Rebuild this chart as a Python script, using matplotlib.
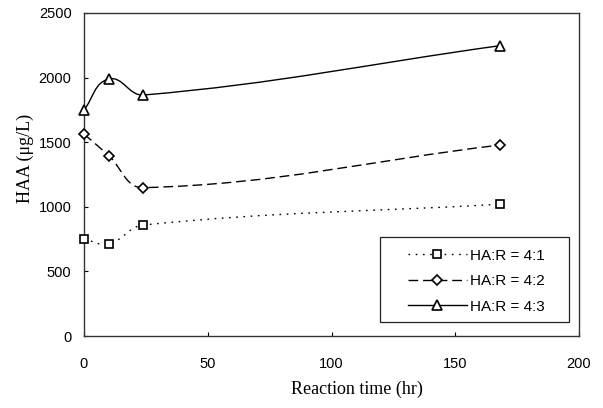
import numpy as np
import matplotlib
matplotlib.use("Agg")
import matplotlib.pyplot as plt
from matplotlib.path import Path
from matplotlib.patches import PathPatch, Rectangle
from matplotlib.lines import Line2D

time_hr = [0, 10, 24, 168]
haa_41 = [751, 712, 859, 1020]
haa_42 = [1563, 1396, 1148, 1478]
haa_43 = [1749, 1989, 1865, 2247]
labels = ["HA:R = 4:1", "HA:R = 4:2", "HA:R = 4:3"]
x_ticks = [0, 50, 100, 150, 200]
y_ticks = [0, 500, 1000, 1500, 2000, 2500]

XMAX, YMAX = 200.0, 2500.0
ASPECT = 323.0 / 495.0  # axes height / width in pixels


def smooth_path(x, y, t=0.38):
    # smoothing done in display-proportional coordinates, mapped back to data
    X = np.asarray(x, float) / XMAX
    Y = np.asarray(y, float) / YMAX * ASPECT
    P = np.column_stack([X, Y])
    n = len(P)
    dirs = []
    for i in range(n):
        d = P[min(i + 1, n - 1)] - P[max(i - 1, 0)]
        dirs.append(d / np.linalg.norm(d))
    verts = [P[0]]
    codes = [Path.MOVETO]
    for i in range(n - 1):
        L = np.linalg.norm(P[i + 1] - P[i])
        verts += [P[i] + dirs[i] * L * t, P[i + 1] - dirs[i + 1] * L * t, P[i + 1]]
        codes += [Path.CURVE4] * 3
    V = np.array(verts)
    V[:, 0] *= XMAX
    V[:, 1] = V[:, 1] / ASPECT * YMAX
    return Path(V, codes)


fig = plt.figure(figsize=(6.03, 4.08), dpi=100)
ax = fig.add_axes([84 / 603, 72 / 408, 495 / 603, 323 / 408])

series = [
    (haa_41, "s", (0, (1.2, 4)), 5.5),
    (haa_42, "D", (0, (7, 3.5)), 5),
    (haa_43, "^", "-", 6.5),
]
handles = []
for (vals, mk, ls, ms), lab in zip(series, labels):
    p = smooth_path(time_hr, vals)
    ax.add_patch(PathPatch(p, facecolor="none", edgecolor="black", lw=1.0,
                           linestyle=ls, transform=ax.transData))
    ax.plot(time_hr, vals, linestyle="none", marker=mk, ms=ms,
            mfc="white", mec="black", mew=1.2, zorder=3, clip_on=False)
    handles.append(Line2D([], [], color="black", lw=1.0, linestyle=ls, marker=mk,
                          ms=ms, mfc="white", mec="black", mew=1.2))

ax.set_xlim(0, 200)
ax.set_ylim(0, 2500)
ax.set_xticks(x_ticks)
ax.set_yticks(y_ticks)
ax.tick_params(direction="in", length=3, width=0.8, labelsize=10.5)
for tl in ax.get_xticklabels() + ax.get_yticklabels():
    tl.set_family("Liberation Sans")
ax.tick_params(axis="x", pad=15)
ax.tick_params(axis="y", pad=9)
for s in ax.spines.values():
    s.set_linewidth(1.0)
    s.set_color("#333333")

ax.set_xlabel("Reaction time (hr)", family="Liberation Serif", fontsize=13)
ax.set_ylabel("HAA (\u03bcg/L)", family="Liberation Serif", fontsize=13)
ax.xaxis.set_label_coords(0.552, -0.137)
ax.yaxis.set_label_coords(-0.101, 0.551)

# legend frame
ax.add_patch(Rectangle((0.598, 0.0433), 0.382, 0.2632, transform=ax.transAxes,
                       facecolor="white", edgecolor="#222222", lw=0.9, zorder=4))
leg = ax.legend(handles, labels, loc="center left", bbox_to_anchor=(0.6545, 0.170),
                prop={"family": "Liberation Sans", "size": 11}, frameon=False,
                handlelength=3.85, borderpad=0, borderaxespad=0,
                labelspacing=0.75, handletextpad=0.2)
leg.set_zorder(5)

fig.savefig("out.png", dpi=100)
